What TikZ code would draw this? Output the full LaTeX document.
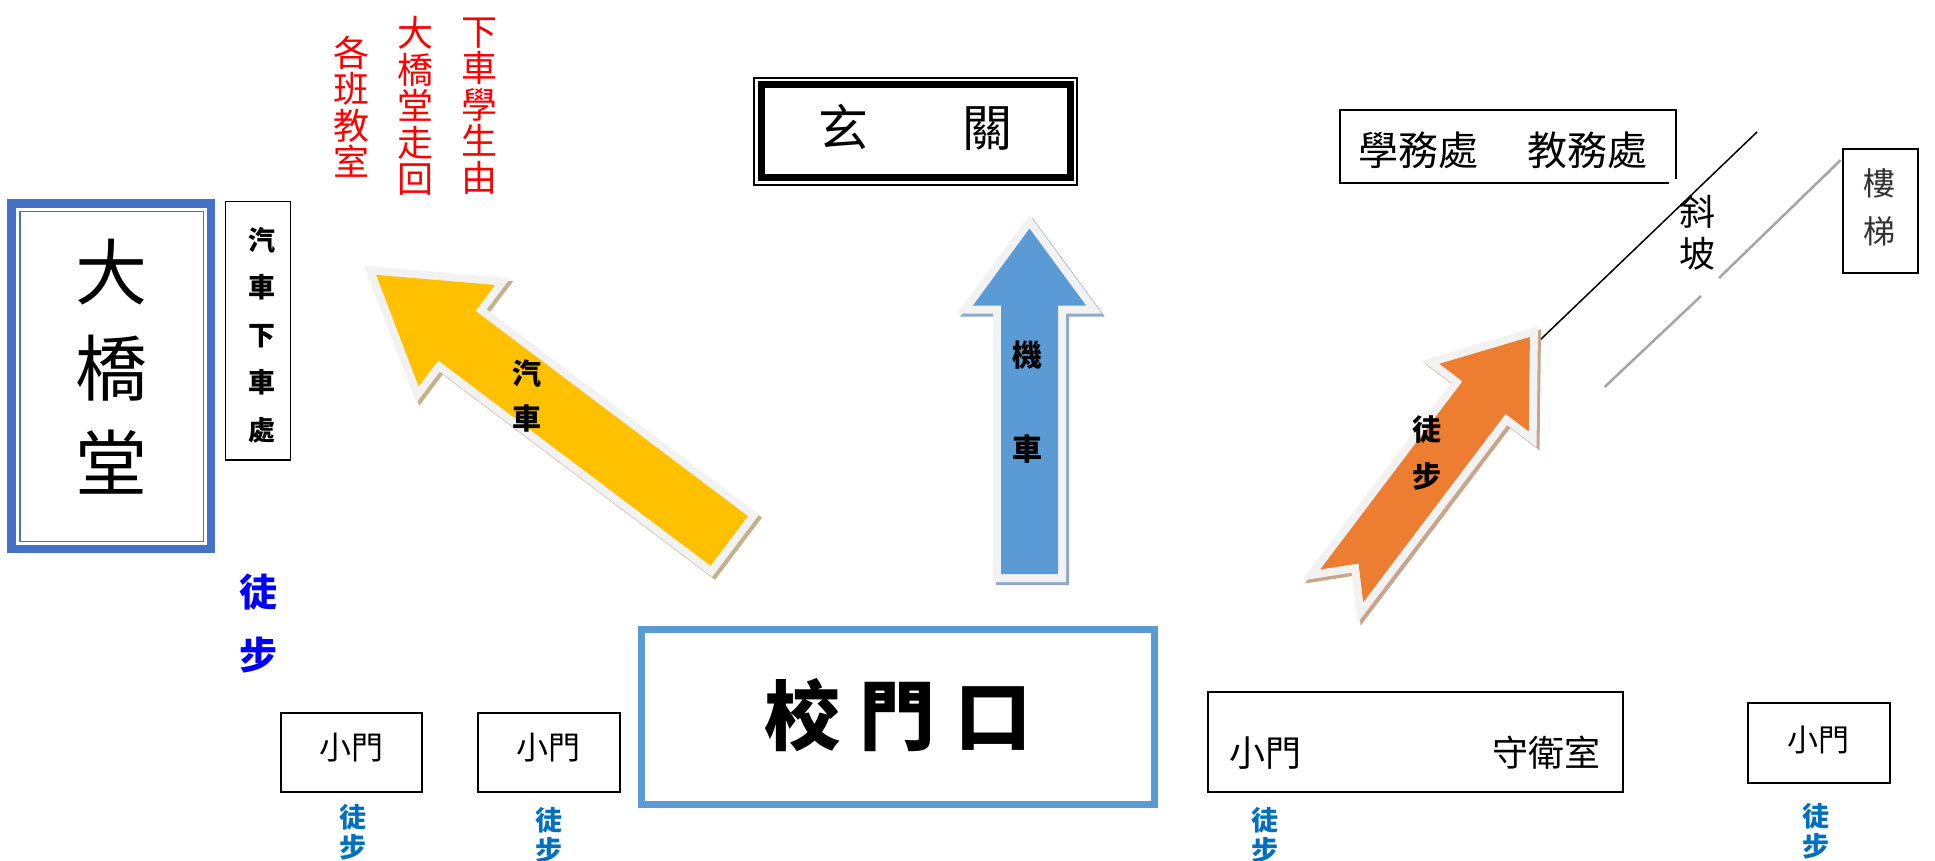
\documentclass[tikz,border=0pt]{standalone}
\usepackage{fontspec}
\setmainfont{Noto Sans CJK TC}
\definecolor{yel}{HTML}{FFC000}
\definecolor{org}{HTML}{ED7D31}
\definecolor{barr}{HTML}{5B9BD5}
\definecolor{rimc}{HTML}{F2F2F2}
\definecolor{tany}{HTML}{C3B38C}
\definecolor{tano}{HTML}{C9A58A}
\definecolor{tanb}{HTML}{8FA9C8}
\definecolor{dqblue}{HTML}{4472C4}
\definecolor{gateblue}{HTML}{5B9BD5}
\definecolor{walkblue}{HTML}{0070C0}
\definecolor{slopegray}{HTML}{A5A5A5}
\newcommand{\arrpath}[5]{(0,-#2/2) -- (#1-#4,-#2/2) -- (#1-#4,-#3/2) -- (#1,0) -- (#1-#4,#3/2) -- (#1-#4,#2/2) -- (0,#2/2) -- (#5,0) -- cycle}
\tikzset{
  vt/.style={align=center, inner sep=0pt},
  tx/.style={inner sep=0pt},
  bx/.style={draw=black, line width=2, inner sep=0pt},
  thinbx/.style={draw=black, line width=1.5, inner sep=0pt},
  rim/.style={draw=rimc, line width=16, line join=miter},
  shad/.style={line width=16, line join=miter},
}
\begin{document}
\begin{tikzpicture}[x=1pt,y=-1pt]
\useasboundingbox[fill=white] (0,0) rectangle (1935,861);

% ---- slope lines ----
\coordinate (slA) at (1539,341);
\coordinate (slB) at (1757,132);
\coordinate (sgA) at (1604.6,387);
\coordinate (sgB) at (1701,296);
\coordinate (sgC) at (1719,278);
\coordinate (sgD) at (1840.7,160);
\draw[line width=1.5] (slA) -- (slB);
\draw[slopegray, line width=2.5] (sgA) -- (sgB);
\draw[slopegray, line width=2.5] (sgC) -- (sgD);

% ---- yellow arrow ----
\begin{scope}[shift={(732.2,543.9)}, rotate=143.0]
  \draw[shad, draw=tany] \arrpath{442}{62}{127}{101}{0};
\end{scope}
\begin{scope}[shift={(729.2,540.9)}, rotate=143.0]
  \draw[rim] \arrpath{442}{62}{127}{101}{0};
  \fill[yel] \arrpath{442}{62}{127}{101}{0};
\end{scope}

% ---- blue arrow ----
\begin{scope}[shift={(1032.5,577)}, rotate=90]
  \draw[shad, draw=tanb] \arrpath{345.5}{57}{113}{77}{0};
\end{scope}
\begin{scope}[shift={(1029.5,574)}, rotate=90]
  \draw[rim] \arrpath{345.5}{57}{113}{77}{0};
  \fill[barr] \arrpath{345.5}{57}{113}{77}{0};
\end{scope}

% ---- orange arrow ----
\begin{scope}[shift={(1344.7,588.8)}, rotate=52.9]
  \draw[shad, draw=tano] \arrpath{312}{54}{112}{76}{28};
\end{scope}
\begin{scope}[shift={(1341.7,585.8)}, rotate=52.9]
  \draw[rim] \arrpath{312}{54}{112}{76}{28};
  \fill[org] \arrpath{312}{54}{112}{76}{28};
\end{scope}

% ---- arrow labels ----
\node[vt, font=\fontsize{29}{45}\selectfont\bfseries] (carlbl) at (527,396) {汽\\車};
\node[vt, font=\fontsize{30}{94}\selectfont\bfseries] (motolbl) at (1027,402) {機\\車};
\node[vt, font=\fontsize{29}{47}\selectfont\bfseries] (walklbl) at (1427,453) {徒\\步};

% ---- 大橋堂 ----
\node[draw=dqblue, line width=8.4, minimum width=199.3, minimum height=345.6, inner sep=0] (dqframe) at (111.15,376.3) {};
\node[draw=dqblue, line width=1.5, minimum width=183.3, minimum height=330, inner sep=0] (dqinner) at (111.65,376.7) {};
\node[vt, font=\fontsize{72}{95.5}\selectfont] (dqtext) at (111,367) {大\\橋\\堂};

% ---- 汽車下車處 ----
\node[thinbx, minimum width=65, minimum height=258.3] (dropbox) at (258.2,330.85) {};
\node[vt, font=\fontsize{27}{47.5}\selectfont\bfseries] (droptext) at (261.5,335) {汽\\車\\下\\車\\處};

% ---- red notes ----
\node[vt, text=red, font=\fontsize{36}{36.4}\selectfont] (red1) at (479,106) {下\\車\\學\\生\\由};
\node[vt, text=red, font=\fontsize{36}{36.4}\selectfont] (red2) at (415,106) {大\\橋\\堂\\走\\回};
\node[vt, text=red, font=\fontsize{36}{36.4}\selectfont] (red3) at (351,106.5) {各\\班\\教\\室};

% ---- 玄關 ----
\node[draw=black, line width=1.5, minimum width=323, minimum height=107, inner sep=0] (xgout) at (915.5,131.5) {};
\node[draw=black, line width=7, minimum width=309, minimum height=92.5, inner sep=0] (xgin) at (915.5,131.25) {};
\node[tx, font=\fontsize{50}{50}\selectfont] (xgtext) at (915,127) {玄\hspace{94pt}關};

% ---- 學務處 教務處 ----
\node[minimum width=336, minimum height=73, inner sep=0] (office) at (1508,146.5) {};
\draw[line width=1.5] ([xshift=-7pt]office.south east) -- (office.south west) -- (office.north west) -- (office.north east) -- ([yshift=4pt]office.south east);
\node[tx, font=\fontsize{40}{40}\selectfont] (officetext) at (1502.5,150) {學務處\hspace{49pt}教務處};

% ---- 斜坡 ----
\node[vt, font=\fontsize{36}{42}\selectfont] (slopetext) at (1697,233) {斜\\坡};

% ---- 樓梯 ----
\node[thinbx, minimum width=75, minimum height=124] (stair) at (1880.5,211) {};
\node[vt, text=black!80, font=\fontsize{32}{48}\selectfont] (stairtext) at (1879,207) {樓\\梯};

% ---- 左 徒步 ----
\node[vt, text=blue, font=\fontsize{38}{63}\selectfont\bfseries] (walkleft) at (258,623.5) {徒\\步};

% ---- 校門口 ----
\node[draw=gateblue, line width=7, minimum width=513, minimum height=175, inner sep=0] (gate) at (897.6,717) {};
\node[tx, font=\fontsize{76}{76}\selectfont\bfseries] (gatetext) at (898,715) {校\hspace{19.5pt}門\hspace{19.5pt}口};

% ---- small gates ----
\node[bx, minimum width=141, minimum height=79] (g1) at (351.5,752.5) {};
\node[tx, font=\fontsize{32}{32}\selectfont] (g1t) at (351,748) {小門};
\node[bx, minimum width=142, minimum height=79] (g2) at (549,752.5) {};
\node[tx, font=\fontsize{32}{32}\selectfont] (g2t) at (548.5,748) {小門};
\node[bx, minimum width=415.5, minimum height=100] (g3) at (1415.25,742) {};
\node[tx, font=\fontsize{36}{36}\selectfont] (g3t) at (1265,753) {小門};
\node[tx, font=\fontsize{36}{36}\selectfont] (g3g) at (1546,753) {守衛室};
\node[bx, minimum width=142, minimum height=80] (g4) at (1819,743) {};
\node[tx, font=\fontsize{31}{31}\selectfont] (g4t) at (1818,740) {小門};

% ---- small 徒步 ----
\node[vt, text=walkblue, font=\fontsize{27}{30}\selectfont\bfseries] (w1) at (353,832) {徒\\步};
\node[vt, text=walkblue, font=\fontsize{27}{30}\selectfont\bfseries] (w2) at (548.5,835) {徒\\步};
\node[vt, text=walkblue, font=\fontsize{27}{30}\selectfont\bfseries] (w3) at (1265,835) {徒\\步};
\node[vt, text=walkblue, font=\fontsize{27}{30}\selectfont\bfseries] (w4) at (1816,831) {徒\\步};
\end{tikzpicture}
\end{document}
